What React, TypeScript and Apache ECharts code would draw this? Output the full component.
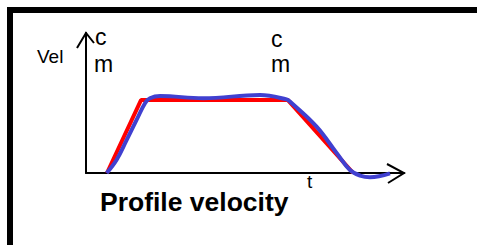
import React, { useEffect, useRef } from "react";
import * as echarts from "echarts";

// Time axis (0..100) and velocity axis (0..100) in arbitrary units
const commandX = [6.6, 17.3, 63.5, 84.0];
const commandY = [0, 52.1, 52.1, 0];

const actualX = [6.5, 9.6, 12.8, 15.9, 18.6, 20.1, 23.3, 36.8, 54.7, 63.1, 64.2, 72.5, 78.8, 83.0, 86.2, 89.3, 95.6];
const actualY = [0, 9.3, 23.6, 37.9, 50, 53.4, 55, 53.4, 55.7, 52.6, 50.9, 33.1, 14.3, 2.1, -1.8, -3.0, -0.2];

const yLabel = "Vel";
const xLabel = "t";
const marker = ["c", "m"];
const caption = "Profile velocity";

export default function App() {
  const ref = useRef<HTMLDivElement>(null);
  useEffect(() => {
    const chart = echarts.init(ref.current!, null, { renderer: "svg" });
    const family = "Liberation Sans, Arial, sans-serif";
    const txt = (x: number, y: number, text: string, size: number, weight = "normal") => ({
      type: "text",
      x,
      y,
      style: {
        text,
        fontSize: size,
        fontFamily: family,
        fontWeight: weight,
        fill: "#000",
        verticalAlign: "middle",
      },
    });
    chart.setOption({
      animation: false,
      backgroundColor: "#ffffff",
      grid: { left: 86, top: 33, width: 318, height: 140 },
      xAxis: {
        type: "value",
        min: 0,
        max: 100,
        axisLine: { show: true, lineStyle: { color: "#000", width: 2 } },
        axisTick: { show: false },
        axisLabel: { show: false },
        splitLine: { show: false },
      },
      yAxis: {
        type: "value",
        min: 0,
        max: 100,
        axisLine: { show: true, lineStyle: { color: "#000", width: 2 } },
        axisTick: { show: false },
        axisLabel: { show: false },
        splitLine: { show: false },
      },
      series: [
        {
          type: "line",
          data: commandX.map((x, i) => [x, commandY[i]]),
          showSymbol: false,
          clip: false,
          lineStyle: { color: "#ff0000", width: 4 },
          z: 2,
        },
        {
          type: "line",
          data: actualX.map((x, i) => [x, actualY[i]]),
          smooth: 0.4,
          showSymbol: false,
          clip: false,
          lineStyle: { color: "#4040d0", width: 4 },
          z: 3,
        },
      ],
      graphic: [
        {
          type: "rect",
          shape: { x: 10, y: 10, width: 480, height: 260 },
          style: { fill: "none", stroke: "#000", lineWidth: 6 },
          silent: true,
        },
        {
          type: "polyline",
          shape: { points: [[77, 48], [86, 33], [94, 43]] },
          style: { stroke: "#000", lineWidth: 2, fill: "none" },
        },
        {
          type: "polyline",
          shape: { points: [[387, 164], [404, 173], [388, 183]] },
          style: { stroke: "#000", lineWidth: 2, fill: "none" },
        },
        txt(37, 56, yLabel, 19),
        txt(95, 37, marker[0], 23),
        txt(94, 64, marker[1], 23),
        txt(271, 39, marker[0], 23),
        txt(271, 64, marker[1], 23),
        txt(307, 181, xLabel, 19),
        txt(100, 202, caption, 26.5, "bold"),
      ],
    });
    return () => chart.dispose();
  }, []);
  return <div ref={ref} style={{ position: "absolute", left: 0, top: 0, width: 477, height: 245 }} />;
}
